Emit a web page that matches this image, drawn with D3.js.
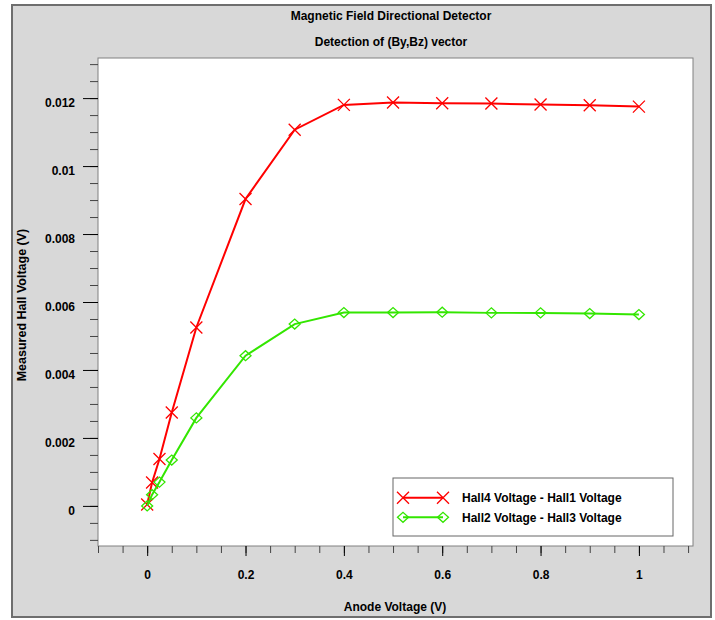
<!DOCTYPE html>
<html>
<head>
<meta charset="utf-8">
<script src="https://cdn.jsdelivr.net/npm/d3@7"></script>
<style>
    body { margin: 0; background: #fff; }
    text { font-family: "Liberation Sans", Arial, sans-serif; font-weight: bold; font-size: 12px; }
</style>
</head>
<body>
<svg></svg>
<script>
var anode = [0, 0.01, 0.025, 0.05, 0.1, 0.2, 0.3, 0.4, 0.5, 0.6, 0.7, 0.8, 0.9, 1.0];
var hall41 = [0.00004, 0.00069, 0.00138, 0.00275, 0.00525, 0.00903, 0.01107, 0.0118, 0.01187, 0.01185, 0.01184, 0.01181, 0.01179, 0.01175];
var hall23 = [0, 0.00033, 0.0007, 0.00135, 0.00259, 0.00442, 0.00535, 0.00569, 0.00569, 0.0057, 0.00568, 0.00568, 0.00566, 0.00563];
var seriesNames = ["Hall4 Voltage - Hall1 Voltage", "Hall2 Voltage - Hall3 Voltage"];
var xTicks = [0, 0.2, 0.4, 0.6, 0.8, 1];
var xTickLabels = ["0", "0.2", "0.4", "0.6", "0.8", "1"];
var yTicks = [0, 0.002, 0.004, 0.006, 0.008, 0.01, 0.012];
var yTickLabels = ["0", "0.002", "0.004", "0.006", "0.008", "0.01", "0.012"];

var svg = d3.select('svg')
    .attr("width", 715)
    .attr("height", 620);

var plotLeft = 98, plotRight = 693, plotTop = 58, plotBottom = 546;

var x = d3.scaleLinear()
    .domain([-0.1, 1.11])
    .range([plotLeft, plotRight]);

var y = d3.scaleLinear()
    .domain([-0.00118, 0.01318])
    .range([plotBottom, plotTop]);

// outer frame
svg.append("rect")
    .attr("x", 12).attr("y", 5)
    .attr("width", 699).attr("height", 612)
    .attr("fill", "#d8d8d8")
    .attr("stroke", "#6e6e6e")
    .attr("stroke-width", 2);

svg.append("rect")
    .attr("x", plotLeft).attr("y", plotTop)
    .attr("width", plotRight - plotLeft).attr("height", plotBottom - plotTop)
    .attr("fill", "#fff")
    .attr("stroke", "#808080")
    .attr("stroke-width", 1);

svg.append("text")
    .attr("x", 391).attr("y", 20)
    .attr("text-anchor", "middle")
    .text("Magnetic Field Directional Detector");

svg.append("text")
    .attr("x", 391).attr("y", 46)
    .attr("text-anchor", "middle")
    .text("Detection of (By,Bz) vector");

// minor ticks
svg.append("g")
    .attr("transform", "translate(" + plotLeft + ",0)")
    .call(d3.axisLeft(y).tickValues(d3.range(-0.001, 0.0131, 0.0005)).tickSize(8).tickFormat(""))
    .call(g => g.select(".domain").remove())
    .call(g => g.selectAll("line").attr("stroke", "#444"));

svg.append("g")
    .attr("transform", "translate(0," + plotBottom + ")")
    .call(d3.axisBottom(x).tickValues(d3.range(-0.1, 1.101, 0.05)).tickSize(7).tickFormat(""))
    .call(g => g.select(".domain").remove())
    .call(g => g.selectAll("line").attr("stroke", "#444"));

// major ticks
svg.append("g")
    .attr("transform", "translate(" + plotLeft + ",0)")
    .call(d3.axisLeft(y).tickValues(yTicks).tickSize(15).tickPadding(8)
        .tickFormat((d, i) => yTickLabels[i]))
    .call(g => g.select(".domain").remove())
    .call(g => g.selectAll("line").attr("stroke", "#000"))
    .call(g => g.selectAll("text")
        .attr("dy", "0.71em")
        .style("font-family", "'Liberation Sans', Arial, sans-serif")
        .style("font-weight", "bold")
        .style("font-size", "12px")
        .attr("fill", "#000"));

svg.append("g")
    .attr("transform", "translate(0," + plotBottom + ")")
    .call(d3.axisBottom(x).tickValues(xTicks).tickSize(10).tickPadding(14)
        .tickFormat((d, i) => xTickLabels[i]))
    .call(g => g.select(".domain").remove())
    .call(g => g.selectAll("line").attr("stroke", "#000"))
    .call(g => g.selectAll("text")
        .style("font-family", "'Liberation Sans', Arial, sans-serif")
        .style("font-weight", "bold")
        .style("font-size", "12px")
        .attr("fill", "#000"));

svg.append("text")
    .attr("x", 395).attr("y", 611)
    .attr("text-anchor", "middle")
    .text("Anode Voltage (V)");

svg.append("text")
    .attr("transform", "translate(25.5,305) rotate(-90)")
    .attr("text-anchor", "middle")
    .style("font-size", "12.5px")
    .text("Measured Hall Voltage (V)");

var red = "#ff0000", green = "#33e600";

function cross(sel, c) {
    sel.append("path")
        .attr("d", "M-6,-6L6,6M-6,6L6,-6")
        .attr("stroke", c)
        .attr("stroke-width", 1.3)
        .attr("fill", "none");
}

function diamond(sel, c) {
    sel.append("path")
        .attr("d", "M-5.5,0L0,-5L5.5,0L0,5Z")
        .attr("stroke", c)
        .attr("stroke-width", 1.3)
        .attr("fill", "none");
}

var series = [
    { values: hall41, color: red, marker: cross },
    { values: hall23, color: green, marker: diamond }
];

var line = d3.line()
    .x((d, i) => x(anode[i]))
    .y(d => y(d));

series.forEach(function(s) {
    svg.append("path")
        .datum(s.values)
        .attr("d", line)
        .attr("fill", "none")
        .attr("stroke", s.color)
        .attr("stroke-width", 2);

    svg.append("g")
        .selectAll("g")
        .data(s.values)
        .enter().append("g")
        .attr("transform", (d, i) => "translate(" + x(anode[i]) + "," + y(d) + ")")
        .each(function() { s.marker(d3.select(this), s.color); });
});

// legend
var legend = svg.append("g");

legend.append("rect")
    .attr("x", 393).attr("y", 478)
    .attr("width", 280).attr("height", 58)
    .attr("fill", "#fff")
    .attr("stroke", "#666");

series.forEach(function(s, i) {
    var ly = 497.7 + i * 19.6;
    legend.append("line")
        .attr("x1", 403).attr("x2", 443)
        .attr("y1", ly).attr("y2", ly)
        .attr("stroke", s.color)
        .attr("stroke-width", 2);
    [403, 443].forEach(function(lx) {
        s.marker(legend.append("g").attr("transform", "translate(" + lx + "," + ly + ")"), s.color);
    });
    legend.append("text")
        .attr("x", 462).attr("y", ly + 4.5)
        .text(seriesNames[i]);
});
</script>
</body>
</html>
